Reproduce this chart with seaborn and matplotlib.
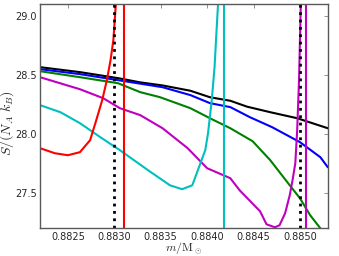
import numpy as np
import pandas as pd
import matplotlib
matplotlib.use("Agg")
import matplotlib.pyplot as plt
import seaborn as sns

# entropy per baryon vs mass
m_black = [0.88220, 0.88263, 0.88304, 0.88328, 0.88352, 0.88382, 0.88403, 0.88425, 0.88443, 0.88468, 0.88497, 0.88530]
s_black = [28.565, 28.523, 28.472, 28.436, 28.410, 28.365, 28.310, 28.280, 28.230, 28.183, 28.132, 28.047]

m_blue = [0.88220, 0.88263, 0.88304, 0.88352, 0.88382, 0.88403, 0.88425, 0.88446, 0.88470, 0.88500, 0.88522, 0.88530]
s_blue = [28.548, 28.506, 28.455, 28.395, 28.328, 28.260, 28.226, 28.141, 28.056, 27.929, 27.801, 27.716]

m_green = [0.88220, 0.88263, 0.88304, 0.88328, 0.88349, 0.88382, 0.88403, 0.88425, 0.88449, 0.88468, 0.88489, 0.88500, 0.88511, 0.88522]
s_green = [28.531, 28.480, 28.429, 28.353, 28.311, 28.217, 28.132, 28.047, 27.937, 27.776, 27.563, 27.453, 27.309, 27.198]

m_magenta = [0.88220, 0.88263, 0.88288, 0.88306, 0.88328, 0.88352, 0.88379, 0.88400, 0.88425, 0.88435, 0.88457,
             0.88464, 0.88473, 0.88478, 0.88484, 0.88489, 0.88492, 0.88495, 0.88497, 0.88499, 0.88500, 0.88501]
s_magenta = [28.480, 28.378, 28.302, 28.217, 28.158, 28.047, 27.878, 27.708, 27.623, 27.521, 27.343,
             27.232, 27.207, 27.224, 27.326, 27.479, 27.606, 27.750, 28.030, 28.455, 28.794, 29.134]

m_cyan = [0.88220, 0.88242, 0.88263, 0.88285, 0.88306, 0.88338, 0.88360, 0.88373, 0.88384, 0.88392, 0.88398,
          0.88401, 0.88405, 0.88408, 0.88410, 0.88412]
s_cyan = [28.243, 28.183, 28.090, 27.971, 27.861, 27.682, 27.563, 27.530, 27.563, 27.733, 27.861,
          28.005, 28.285, 28.565, 28.854, 29.134]

m_red = [0.88220, 0.88236, 0.88250, 0.88263, 0.88274, 0.88280, 0.88287, 0.88292, 0.88296, 0.88299, 0.88302]
s_red = [27.878, 27.835, 27.818, 27.844, 27.946, 28.100, 28.285, 28.455, 28.625, 28.794, 29.134]

# vertical markers
vline_m = [0.88300, 0.88311, 0.88418, 0.88500, 0.88506]
vline_color = ['k', 'r', 'c', 'k', 'm']
vline_style = [':', '-', '-', ':', '-']

xticks = [0.8825, 0.8830, 0.8835, 0.8840, 0.8845, 0.8850]
yticks = [27.5, 28.0, 28.5, 29.0]

sns.set_style("white")
plt.rcParams['font.family'] = ['DejaVu Sans']
plt.rcParams['mathtext.fontset'] = 'cm'

fig = plt.figure(figsize=(3.39, 2.56), dpi=100)
ax = fig.add_axes([0.118, 0.109, 0.849, 0.875])

curves = [(m_black, s_black, 'k'), (m_blue, s_blue, 'b'), (m_green, s_green, 'g'),
          (m_magenta, s_magenta, 'm'), (m_cyan, s_cyan, 'c'), (m_red, s_red, 'r')]
colors = {'k': (0, 0, 0), 'b': (0, 0, 1), 'g': (0, 0.5, 0), 'm': (0.75, 0, 0.75),
          'c': (0, 0.75, 0.75), 'r': (1, 0, 0)}
for mm, ss, c in curves:
    df = pd.DataFrame({'m': mm, 'S': ss})
    sns.lineplot(data=df, x='m', y='S', sort=False, color=colors[c], lw=1.5, ax=ax)

for x, c, ls in zip(vline_m, vline_color, vline_style):
    ax.axvline(x, color=colors[c], ls=ls, lw=2 if ls == ':' else 1.5)

ax.set_xlim(0.8822, 0.8853)
ax.set_ylim(27.2, 29.1)
ax.set_xticks(xticks)
ax.set_xticklabels([f"{v:.4f}" for v in xticks])
ax.set_yticks(yticks)
ax.set_yticklabels([f"{v:.1f}" for v in yticks])
ax.tick_params(direction='in', top=True, right=True, length=3, width=0.6,
               labelsize=7, color='0.5', pad=2.5)
for sp in ax.spines.values():
    sp.set_color('0.35')
    sp.set_linewidth(1.0)

ax.set_xlabel(r'$m/\mathrm{M}_\odot$', fontsize=8.5)
ax.set_ylabel(r'$S/(N_A\ k_B)$', fontsize=10)
ax.xaxis.set_label_coords(0.497, -0.052)
ax.yaxis.set_label_coords(-0.082, 0.47)

fig.savefig('out.png', dpi=100)
